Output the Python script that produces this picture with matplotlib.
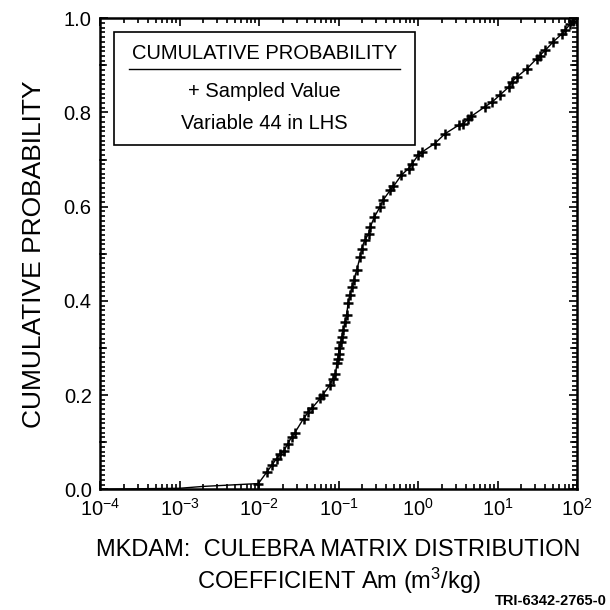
import matplotlib
matplotlib.use("Agg")
import matplotlib.pyplot as plt
import numpy as np
from matplotlib.ticker import LogLocator, MultipleLocator, FormatStrFormatter
from matplotlib.patches import Rectangle

plt.rcParams['font.family'] = ['Liberation Sans', 'DejaVu Sans']
plt.rcParams['mathtext.default'] = 'regular'
plt.rcParams['axes.unicode_minus'] = False

sample_x = [0.0098, 0.0126, 0.0145, 0.0166, 0.0182, 0.0204, 0.0229, 0.0257, 0.0282,
            0.0363, 0.0417, 0.0468, 0.0589, 0.0631, 0.0776, 0.0851, 0.0912, 0.0955,
            0.0977, 0.100, 0.102, 0.107, 0.110, 0.115, 0.120, 0.126, 0.132, 0.138,
            0.148, 0.155, 0.170, 0.186, 0.195, 0.214, 0.240, 0.251, 0.282, 0.331,
            0.363, 0.447, 0.490, 0.617, 0.759, 0.832, 1.00, 1.12, 1.62, 2.19, 3.24,
            3.72, 4.27, 4.68, 6.92, 8.51, 10.7, 13.8, 15.1, 17.4, 23.4, 30.9, 33.9,
            39.8, 50.1, 64.6, 70.8, 81.3, 89.1]
sample_p = [0.012, 0.037, 0.051, 0.065, 0.074, 0.081, 0.096, 0.111, 0.120,
            0.150, 0.164, 0.173, 0.193, 0.200, 0.221, 0.235, 0.244, 0.267,
            0.277, 0.288, 0.299, 0.313, 0.323, 0.338, 0.355, 0.369, 0.396, 0.412,
            0.430, 0.444, 0.466, 0.493, 0.511, 0.529, 0.543, 0.557, 0.578, 0.599,
            0.614, 0.635, 0.643, 0.667, 0.681, 0.690, 0.709, 0.716, 0.734, 0.755, 0.773,
            0.776, 0.787, 0.792, 0.812, 0.822, 0.837, 0.854, 0.865, 0.875, 0.893, 0.914, 0.921,
            0.932, 0.950, 0.967, 0.975, 0.987, 0.994]

# distribution tails (line only)
tail_lo_x = [1e-4, 1e-3, 2e-3]
tail_lo_p = [0.0, 0.002, 0.006]
tail_hi_x = [100.0]
tail_hi_p = [1.0]

curve_x = tail_lo_x + sample_x + tail_hi_x
curve_p = tail_lo_p + sample_p + tail_hi_p

fig = plt.figure(figsize=(6.1, 6.1), dpi=100)
ax = fig.add_axes([0.164, 0.198, 0.782, 0.772])

ax.plot(curve_x, curve_p, color='black', lw=1.0)
ax.plot(sample_x, sample_p, '+', color='black', ms=6.5, mew=1.8)

ax.set_xscale('log')
ax.set_xlim(1e-4, 1e2)
ax.set_ylim(0, 1.0)

ax.xaxis.set_major_locator(LogLocator(base=10, numticks=10))
ax.xaxis.set_minor_locator(LogLocator(base=10, subs=np.arange(2, 10), numticks=20))
ax.yaxis.set_major_locator(MultipleLocator(0.2))
ax.yaxis.set_major_formatter(FormatStrFormatter('%.1f'))
ax.yaxis.set_minor_locator(MultipleLocator(0.01))

ax.tick_params(which='both', direction='in', top=True, right=True, width=1.2)
ax.tick_params(which='major', length=6, labelsize=14.5, pad=6)
ax.tick_params(which='minor', length=3.5)
# medium ticks every 0.1
for yv in [0.1, 0.3, 0.5, 0.7, 0.9]:
    ax.plot([1e-4, 1.18e-4], [yv, yv], color='black', lw=1.2, clip_on=False)
    ax.plot([85, 100], [yv, yv], color='black', lw=1.2, clip_on=False)

for s in ax.spines.values():
    s.set_linewidth(1.8)

ax.set_ylabel('CUMULATIVE PROBABILITY', fontsize=19, labelpad=13)
ax.set_xlabel('MKDAM:  CULEBRA MATRIX DISTRIBUTION\nCOEFFICIENT Am (m$^3$/kg)',
              fontsize=17, labelpad=14, linespacing=1.2)

# legend box
ax.text(0.344, 0.926, 'CUMULATIVE PROBABILITY', transform=ax.transAxes,
        fontsize=14.5, ha='center', va='center')
ax.plot([0.061, 0.629], [0.893, 0.893], transform=ax.transAxes, color='black', lw=1.0)
ax.text(0.344, 0.845, '+ Sampled Value', transform=ax.transAxes,
        fontsize=14.5, ha='center', va='center')
ax.text(0.344, 0.777, 'Variable 44 in LHS', transform=ax.transAxes,
        fontsize=14.5, ha='center', va='center')
ax.add_patch(Rectangle((0.029, 0.732), 0.631, 0.238, transform=ax.transAxes,
                       fill=False, ec='black', lw=1.2))

fig.text(0.995, 0.003, 'TRI-6342-2765-0', fontsize=10.5, fontweight='bold',
         ha='right', va='bottom')

fig.savefig('out.png', dpi=100)
